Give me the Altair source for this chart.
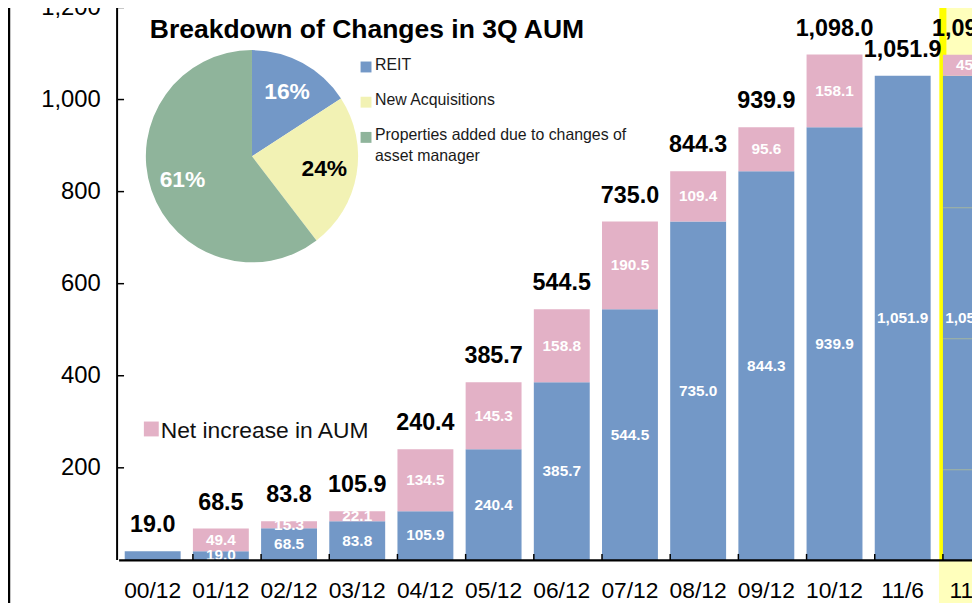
import altair as alt
import pandas as pd

# ---------------- data ----------------
categories = ["00/12", "01/12", "02/12", "03/12", "04/12", "05/12", "06/12",
              "07/12", "08/12", "09/12", "10/12", "11/6", "11/9"]
base_values = [19.0, 19.0, 68.5, 83.8, 105.9, 240.4, 385.7, 544.5, 735.0,
               844.3, 939.9, 1051.9, 1051.9]
increase_values = [0.0, 49.4, 15.3, 22.1, 134.5, 145.3, 158.8, 190.5, 109.4,
                   95.6, 158.1, 0.0, 45.6]
total_labels = ["19.0", "68.5", "83.8", "105.9", "240.4", "385.7", "544.5",
                "735.0", "844.3", "939.9", "1,098.0", "1,051.9", "1,097.5"]
base_labels = ["", "19.0", "68.5", "83.8", "105.9", "240.4", "385.7", "544.5",
               "735.0", "844.3", "939.9", "1,051.9", "1,051.9"]
increase_labels = ["", "49.4", "15.3", "22.1", "134.5", "145.3", "158.8",
                   "190.5", "109.4", "95.6", "158.1", "", "45.6"]
y_ticks = [0, 200, 400, 600, 800, 1000, 1200]
highlight_category = "11/9"
breakdown_11_9 = [196.0, 284.4, 284.4, 287.1]

pie_categories = ["REIT", "New Acquisitions",
                  "Properties added due to changes of asset manager"]
pie_legend_text = ["REIT", "New Acquisitions",
                   "Properties added due to changes of\nasset manager"]
pie_shares = [16, 24, 61]
pie_labels = ["16%", "24%", "61%"]
pie_label_colors = ["white", "black", "white"]

title_text = "Breakdown of Changes in 3Q AUM"
bar_legend_text = "Net increase in AUM"

# ---------------- style ----------------
FONT = "Liberation Sans"
BLUE = "#7398c7"
PINK = "#e3b1c6"
YELLOW_PIE = "#f2f2b4"
GREEN_PIE = "#8fb49b"
H = 557
W = 862
STEP = 68.75
X0 = 1.5

bars = pd.DataFrame({"cat": categories, "base": base_values, "inc": increase_values,
                     "total_lbl": total_labels, "base_lbl": base_labels,
                     "inc_lbl": increase_labels})
bars["top"] = bars["base"] + bars["inc"]
bars["base_mid"] = bars["base"] / 2
bars["inc_mid"] = bars["base"] + bars["inc"] / 2

xscale = alt.Scale(domain=categories, range=[X0, X0 + STEP * len(categories)],
                   paddingInner=0.18, paddingOuter=0.09, round=False)
yscale = alt.Scale(domain=[0, 1200], nice=False)

XAX = alt.Axis(title=None, ticks=False, domain=True, domainColor="black",
               domainWidth=2.5, labelAngle=0, labelFont=FONT, labelFontSize=23,
               labelColor="black", labelPadding=20, zindex=1, grid=False)
YAX = alt.Axis(title=None, ticks=False, domain=False, values=y_ticks, format=",d",
               labelExpr="datum.value == 0 ? '' : datum.label", labelFont=FONT,
               labelFontSize=24, labelColor="black", labelPadding=17, grid=False,
               zindex=1)


def X(bp=None):
    if bp is None:
        return alt.X("cat:N", scale=xscale, sort=categories, axis=XAX)
    return alt.X("cat:N", scale=xscale, sort=categories, axis=XAX, bandPosition=bp)


def Y(field):
    return alt.Y(f"{field}:Q", scale=yscale, axis=YAX)


dummy = pd.DataFrame({"a": [0]})

# highlight for last period
hl = pd.DataFrame({"cat": [highlight_category]})
highlight = alt.Chart(hl).mark_rule(color="#ffffbc", strokeWidth=110, xOffset=51).encode(
    x=X(0), y=alt.value(-20), y2=alt.value(H + 60))
stripe = alt.Chart(hl).mark_rule(color="#ffff00", strokeWidth=7).encode(
    x=X(0), y=alt.value(-20), y2=alt.value(H))

base_bar = alt.Chart(bars).mark_bar(color=BLUE).encode(x=X(), y=Y("base"))
inc_bar = alt.Chart(bars).mark_bar(color=PINK).encode(
    x=X(), y=Y("top"), y2=alt.Y2("base:Q"))

seg = pd.DataFrame({"cat": [highlight_category] * (len(breakdown_11_9) - 1),
                    "v": pd.Series(breakdown_11_9).cumsum().iloc[:-1].values})
seg_lines = alt.Chart(seg).mark_tick(orient="horizontal", thickness=1, size=56,
                                     color="#b9c28f").encode(x=X(), y=Y("v"))

xt = pd.DataFrame({"cat": categories[1:]})
x_ticks = alt.Chart(xt).mark_rule(color="black", strokeWidth=1.5).encode(
    x=X(0), y=alt.value(H - 6), y2=alt.value(H))

yt = pd.DataFrame({"v": y_ticks[1:]})
y_tick_rules = alt.Chart(yt).mark_rule(color="black", strokeWidth=1.5).encode(
    y=Y("v"), x=alt.value(0), x2=alt.value(7))
y_axis_line = alt.Chart(dummy).mark_rule(color="black", strokeWidth=2).encode(
    x=alt.value(0), y=alt.value(-20), y2=alt.value(H))
left_border = alt.Chart(dummy).mark_rule(color="black", strokeWidth=2.5).encode(
    x=alt.value(-109), y=alt.value(-20), y2=alt.value(H + 60))

total_text = alt.Chart(bars).mark_text(dy=-26, font=FONT, fontSize=23.5,
                                       fontWeight="bold", color="black").encode(
    x=X(), y=Y("top"), text="total_lbl:N")
base_text = alt.Chart(bars).transform_filter("datum.base_lbl != ''").mark_text(
    font=FONT, fontSize=15.5, fontWeight="bold", color="white").encode(
    x=X(), y=Y("base_mid"), text="base_lbl:N")
inc_text = alt.Chart(bars).transform_filter("datum.inc_lbl != ''").mark_text(
    font=FONT, fontSize=15.5, fontWeight="bold", color="white").encode(
    x=X(), y=Y("inc_mid"), text="inc_lbl:N")

# bar legend
bar_leg_sq = alt.Chart(dummy).mark_square(color=PINK, size=225, opacity=1).encode(
    x=alt.value(34.5), y=alt.value(425))
bar_leg_txt = alt.Chart(dummy).mark_text(align="left", baseline="middle", font=FONT,
                                         fontSize=23, color="#111").encode(
    x=alt.value(44), y=alt.value(427), text=alt.value(bar_legend_text))

# pie
pie_df = pd.DataFrame({"pcat": pie_categories, "share": pie_shares,
                       "lbl": pie_labels, "tc": pie_label_colors,
                       "leg": pie_legend_text, "i": list(range(len(pie_categories)))})
pie_color = alt.Color("pcat:N", scale=alt.Scale(domain=pie_categories,
                                                range=[BLUE, YELLOW_PIE, GREEN_PIE]),
                      legend=None)
pie = alt.Chart(pie_df).mark_arc(radius=107).encode(
    theta=alt.Theta("share:Q", stack=True), color=pie_color,
    order=alt.Order("i:Q"), x=alt.value(136), y=alt.value(150))
pie_text = alt.Chart(pie_df).mark_text(radius=74, font=FONT, fontSize=23,
                                       fontWeight="bold").encode(
    theta=alt.Theta("share:Q", stack=True), order=alt.Order("i:Q"),
    text="lbl:N", fill=alt.Fill("tc:N", scale=None),
    x=alt.value(136), y=alt.value(150))

leg_sq = alt.Chart(pie_df).transform_calculate(yy="60 + datum.i * 35.5").mark_square(
    size=121, opacity=1).encode(x=alt.value(251), y=alt.Y("yy:Q", scale=None),
                                color=pie_color)
leg_txt = alt.Chart(pie_df).transform_calculate(yy="50 + datum.i * 35.5").mark_text(
    align="left", baseline="top", font=FONT, fontSize=16, lineBreak="\n",
    lineHeight=21, color="#1a1a1a").encode(
    x=alt.value(260), y=alt.Y("yy:Q", scale=None), text="leg:N")

title = alt.Chart(dummy).mark_text(align="left", baseline="middle", font=FONT,
                                   fontSize=26.7, fontWeight="bold",
                                   color="black").encode(
    x=alt.value(33), y=alt.value(23), text=alt.value(title_text))

chart = alt.layer(
    highlight, stripe, base_bar, inc_bar, seg_lines, x_ticks, y_tick_rules,
    y_axis_line, left_border, total_text, base_text, inc_text,
    bar_leg_sq, bar_leg_txt, pie, pie_text, leg_sq, leg_txt, title
).properties(
    width=W, height=H,
    padding={"left": 110, "top": -3, "right": 0, "bottom": 41},
    autosize=alt.AutoSizeParams(type="none"),
    background="white",
).configure_view(strokeWidth=0)

chart.save("out.html", embed_options={"renderer": "svg", "actions": False})
